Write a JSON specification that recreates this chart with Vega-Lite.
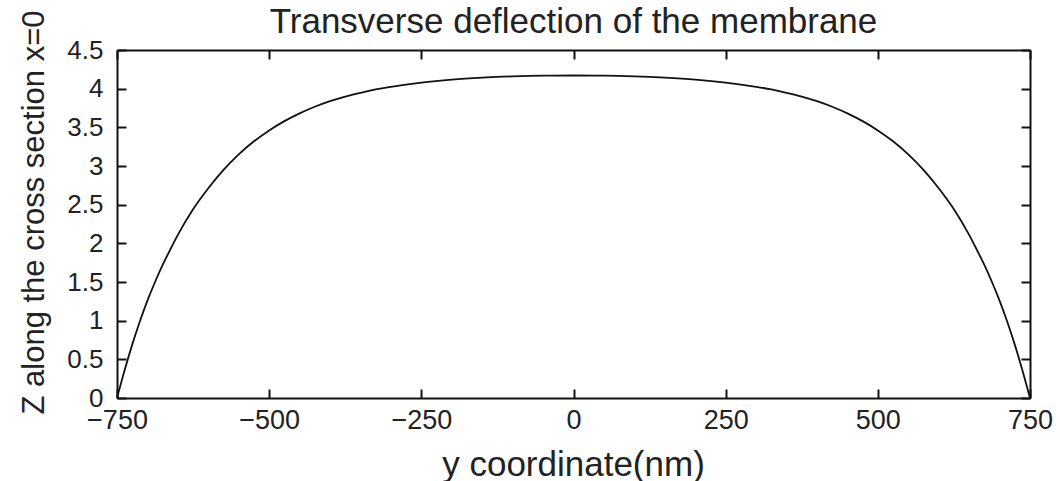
{
  "$schema": "https://vega.github.io/schema/vega-lite/v6.json",
  "autosize": "none",
  "width": 913,
  "height": 348,
  "padding": {"left": 117, "top": 50, "right": 30, "bottom": 83},
  "background": "white",
  "config": {
    "view": {"stroke": null},
    "font": "Liberation Sans",
    "axis": {
      "grid": false,
      "domainColor": "#111",
      "domainWidth": 2,
      "tickColor": "#111",
      "tickWidth": 2,
      "tickSize": -9,
      "labelFont": "Liberation Sans",
      "labelFontSize": 26,
      "labelColor": "#222",
      "titleFont": "Liberation Sans",
      "titleFontWeight": "normal",
      "titleColor": "#222"
    }
  },
  "title": {
    "text": "Transverse deflection of the membrane",
    "anchor": "middle",
    "frame": "group",
    "font": "Liberation Sans",
    "fontSize": 35,
    "fontWeight": "normal",
    "color": "#222",
    "baseline": "alphabetic",
    "offset": -58
  },
  "data": {
    "values": [
      {"y_nm": -750, "z": 0},
      {"y_nm": -737.5, "z": 0.36},
      {"y_nm": -725, "z": 0.69},
      {"y_nm": -712.5, "z": 0.99},
      {"y_nm": -700, "z": 1.26},
      {"y_nm": -687.5, "z": 1.5},
      {"y_nm": -675, "z": 1.72},
      {"y_nm": -662.5, "z": 1.92},
      {"y_nm": -650, "z": 2.11},
      {"y_nm": -625, "z": 2.44},
      {"y_nm": -600, "z": 2.712},
      {"y_nm": -575, "z": 2.949},
      {"y_nm": -550, "z": 3.15},
      {"y_nm": -525, "z": 3.319},
      {"y_nm": -500, "z": 3.46},
      {"y_nm": -475, "z": 3.58},
      {"y_nm": -450, "z": 3.681},
      {"y_nm": -425, "z": 3.766},
      {"y_nm": -400, "z": 3.838},
      {"y_nm": -375, "z": 3.898},
      {"y_nm": -350, "z": 3.947},
      {"y_nm": -325, "z": 3.99},
      {"y_nm": -300, "z": 4.024},
      {"y_nm": -250, "z": 4.079},
      {"y_nm": -200, "z": 4.117},
      {"y_nm": -150, "z": 4.142},
      {"y_nm": -100, "z": 4.159},
      {"y_nm": -50, "z": 4.168},
      {"y_nm": 0, "z": 4.17},
      {"y_nm": 50, "z": 4.168},
      {"y_nm": 100, "z": 4.159},
      {"y_nm": 150, "z": 4.142},
      {"y_nm": 200, "z": 4.117},
      {"y_nm": 250, "z": 4.079},
      {"y_nm": 300, "z": 4.024},
      {"y_nm": 325, "z": 3.99},
      {"y_nm": 350, "z": 3.947},
      {"y_nm": 375, "z": 3.898},
      {"y_nm": 400, "z": 3.838},
      {"y_nm": 425, "z": 3.766},
      {"y_nm": 450, "z": 3.681},
      {"y_nm": 475, "z": 3.58},
      {"y_nm": 500, "z": 3.46},
      {"y_nm": 525, "z": 3.319},
      {"y_nm": 550, "z": 3.15},
      {"y_nm": 575, "z": 2.949},
      {"y_nm": 600, "z": 2.712},
      {"y_nm": 625, "z": 2.44},
      {"y_nm": 650, "z": 2.11},
      {"y_nm": 662.5, "z": 1.92},
      {"y_nm": 675, "z": 1.72},
      {"y_nm": 687.5, "z": 1.5},
      {"y_nm": 700, "z": 1.26},
      {"y_nm": 712.5, "z": 0.99},
      {"y_nm": 725, "z": 0.69},
      {"y_nm": 737.5, "z": 0.36},
      {"y_nm": 750, "z": 0}
    ]
  },
  "layer": [
    {
      "mark": {"type": "line", "color": "#111", "strokeWidth": 1.8, "interpolate": "monotone"},
      "encoding": {
        "x": {
          "field": "y_nm", "type": "quantitative",
          "scale": {"domain": [-750, 750], "nice": false, "zero": false},
          "axis": {
            "orient": "bottom",
            "values": [-750, -500, -250, 0, 250, 500, 750],
            "format": "d",
            "labelPadding": 18,
            "labelFontSize": 27,
            "labelBaseline": "top",
            "labelFlush": false,
            "title": "y coordinate(nm)",
            "titleFontSize": 35,
            "titleBaseline": "alphabetic",
            "titleX": 456,
            "titleY": 77
          }
        },
        "y": {
          "field": "z", "type": "quantitative",
          "scale": {"domain": [0, 4.5], "nice": false},
          "axis": {
            "orient": "left",
            "values": [0, 0.5, 1, 1.5, 2, 2.5, 3, 3.5, 4, 4.5],
            "format": "~g",
            "labelPadding": 23,
            "labelFlush": false,
            "title": "Z along the cross section x=0",
            "titleFontSize": 31,
            "titleAngle": -90,
            "titleBaseline": "alphabetic",
            "titleAlign": "center",
            "titleX": -74,
            "titleY": 162
          }
        }
      }
    },
    {
      "mark": {"type": "line", "opacity": 0},
      "encoding": {
        "x": {
          "field": "y_nm", "type": "quantitative",
          "scale": {"domain": [-750, 750], "nice": false, "zero": false},
          "axis": {"orient": "top", "values": [-750, -500, -250, 0, 250, 500, 750], "labels": false, "title": null}
        },
        "y": {
          "field": "z", "type": "quantitative",
          "scale": {"domain": [0, 4.5], "nice": false},
          "axis": {"orient": "right", "values": [0, 0.5, 1, 1.5, 2, 2.5, 3, 3.5, 4, 4.5], "labels": false, "title": null}
        }
      }
    }
  ],
  "resolve": {"axis": {"x": "independent", "y": "independent"}}
}
